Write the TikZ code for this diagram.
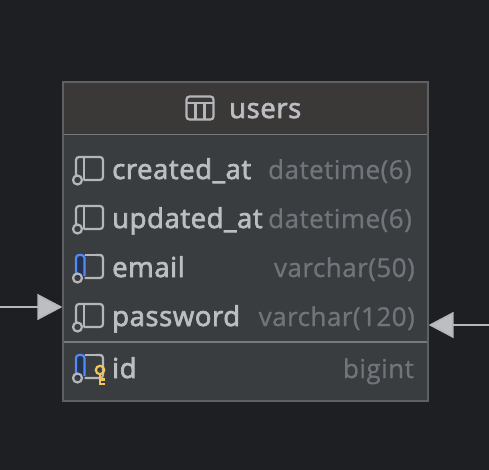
\documentclass[tikz,border=0pt]{standalone}
\usepackage{fontspec}
\setmainfont{Open Sans}
\newfontfamily\namefont[LetterSpace=2.1, FakeBold=2.5]{Open Sans}
\newfontfamily\typefont[LetterSpace=1.8, FakeBold=0.8]{Open Sans}
\usetikzlibrary{arrows.meta}
\definecolor{canvas}{HTML}{1E1F22}
\definecolor{bodyfill}{HTML}{3A3D40}
\definecolor{headfill}{HTML}{3B3937}
\definecolor{edge}{HTML}{5F6062}
\definecolor{rule}{HTML}{77797B}
\definecolor{label}{HTML}{BCBEC4}
\definecolor{typecol}{HTML}{71757B}
\definecolor{iconline}{HTML}{B4B6BA}
\definecolor{keyblue}{HTML}{548AF7}
\definecolor{keyfill}{HTML}{25324D}
\definecolor{keygold}{HTML}{F2C55C}
\tikzset{
    fieldname/.style={anchor=base west, inner sep=0pt, text=label, font=\namefont\fontsize{27.5}{27.5}\selectfont},
    fieldtype/.style={anchor=base east, inner sep=0pt, text=typecol, font=\typefont\fontsize{26}{26}\selectfont},
    iconpen/.style={draw=iconline, line width=2.2pt},
    link/.style={draw=iconline, line width=1.8pt, -{Triangle[length=25pt, width=26pt, fill=label]}}
}
% one column icon, #1 is the ring centre
\newcommand{\columnicon}[1]{
    \draw[iconpen, rounded corners=3pt] ([shift={(-1.5,-4)}]#1) -- ([shift={(-1.5,-23)}]#1) -- ([shift={(25.5,-23)}]#1) -- ([shift={(25.5,0)}]#1) -- ([shift={(6,0)}]#1);
    \draw[iconpen] ([shift={(6.5,-23)}]#1) -- ([shift={(6.5,0)}]#1);
    \draw[iconpen] (#1) circle (4.5);
}
\newcommand{\blueicon}[1]{
    \fill[keyfill, rounded corners=3pt] ([shift={(-1.5,-4)}]#1) -- ([shift={(-1.5,-23)}]#1) -- ([shift={(7,-23)}]#1) -- ([shift={(7,0)}]#1) -- ([shift={(0,0)}]#1) -- cycle;
    \draw[keyblue, line width=2.2pt, rounded corners=3pt] ([shift={(-1.5,-5)}]#1) -- ([shift={(-1.5,-23)}]#1) -- ([shift={(7,-23)}]#1) -- ([shift={(7,-2)}]#1);
    \draw[iconpen] ([shift={(7,-23)}]#1) -- ([shift={(24,-23)}]#1);
    \draw[iconpen, rounded corners=3pt] ([shift={(7,0)}]#1) -- ([shift={(25.5,0)}]#1) -- ([shift={(25.5,-23)}]#1) -- ([shift={(18,-23)}]#1);
    \draw[iconpen] (#1) circle (4.5);
}
\begin{document}
\begin{tikzpicture}[x=1pt, y=-1pt]
    \useasboundingbox[fill=canvas] (0, 0) rectangle (489, 470);
    % table box
    \node[draw=edge, line width=1.2pt, fill=bodyfill, minimum width=365pt, minimum height=319pt, inner sep=0pt] (usersbox) at (245.5, 241.5) {};
    \fill[headfill] (63.6, 82.6) rectangle (427.4, 134);
    \draw[rule, line width=1.6pt] (64, 134.5) -- (427, 134.5);
    \draw[rule, line width=1.6pt] (64, 342) -- (427, 342);
    % header
    \draw[iconpen, rounded corners=3pt] (186.5, 96.5) rectangle (213.5, 119.5);
    \draw[iconpen] (186.5, 103) -- (213.5, 103);
    \draw[iconpen] (195.5, 103) -- (195.5, 119.5);
    \draw[iconpen] (204.5, 103) -- (204.5, 119.5);
    \node[fieldname] (tablename) at (229, 118) {users};
    % columns
    \coordinate (ringa) at (77.5, 180);
    \coordinate (ringb) at (77.5, 229);
    \coordinate (ringc) at (77.5, 278);
    \coordinate (ringd) at (77.5, 327);
    \coordinate (ringe) at (77.5, 378);
    \columnicon{ringa}
    \columnicon{ringb}
    \blueicon{ringc}
    \columnicon{ringd}
    \blueicon{ringe}
    \node[fieldname] (createdname) at (112, 179) {created\_at};
    \node[fieldname] (updatedname) at (112, 228) {updated\_at};
    \node[fieldname] (emailname) at (112, 277) {email};
    \node[fieldname] (passwordname) at (112, 326) {password};
    \node[fieldname] (idname) at (112, 378) {id};
    \node[fieldtype] (createdtype) at (412, 179) {datetime(6)};
    \node[fieldtype] (updatedtype) at (412, 228) {datetime(6)};
    \node[fieldtype] (emailtype) at (415, 277) {varchar(50)};
    \node[fieldtype] (passwordtype) at (415, 326) {varchar(120)};
    \node[fieldtype] (idtype) at (414, 378) {bigint};
    % key
    \draw[keygold, line width=2.2pt] (100, 370) circle (4.2);
    \draw[keygold, line width=2.2pt] (100, 374.2) -- (100, 384) -- (105, 384);
    \draw[keygold, line width=2.2pt] (100, 379.5) -- (105, 379.5);
    % arrows
    \coordinate (leftend) at (0, 307);
    \coordinate (lefttip) at (usersbox.west |- leftend);
    \coordinate (rightend) at (489, 325);
    \coordinate (righttip) at (usersbox.east |- rightend);
    \draw[link] (leftend) -- (lefttip);
    \draw[link] (rightend) -- (righttip);
\end{tikzpicture}
\end{document}
